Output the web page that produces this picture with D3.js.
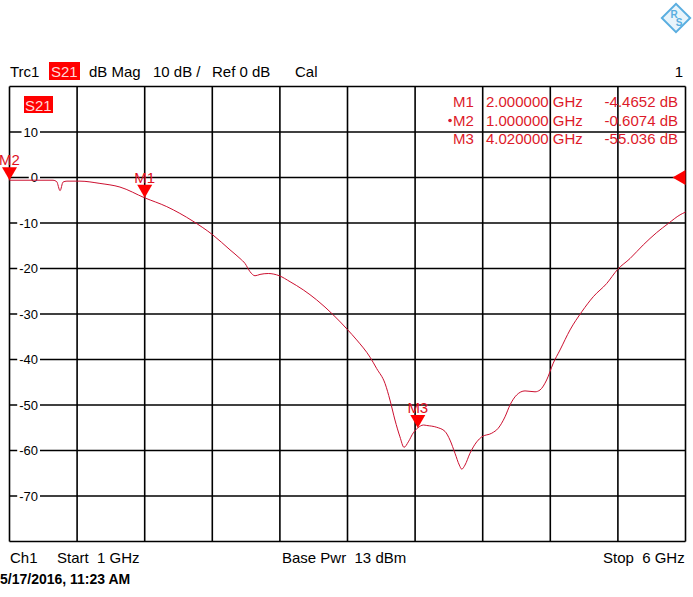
<!DOCTYPE html>
<html><head><meta charset="utf-8">
<script src="https://cdn.jsdelivr.net/npm/d3@7"></script>
<style>
html,body{margin:0;padding:0;background:#fff;}
svg{display:block;font-family:"Liberation Sans",Arial,sans-serif;}
</style></head>
<body><svg id="c" width="693" height="597"></svg>
<script>
// ---- data ----
const freqGHz = [1.000,1.322,1.349,1.374,1.396,1.425,1.521,1.669,1.817,2.000,2.163,2.357,2.503,2.631,2.705,2.742,2.779,2.816,2.853,2.914,2.996,3.075,3.173,3.272,3.395,3.499,3.568,3.667,3.716,3.778,3.814,3.851,3.888,3.918,3.950,3.987,4.020,4.061,4.086,4.160,4.221,4.258,4.295,4.327,4.345,4.369,4.406,4.456,4.493,4.567,4.615,4.665,4.702,4.751,4.813,4.887,4.924,4.973,5.022,5.072,5.146,5.233,5.318,5.417,5.498,5.590,5.688,5.787,5.873,5.960,6.000];
const s21dB   = [-0.6,-0.6,-0.9,-2.9,-1.0,-0.8,-0.8,-1.3,-2.1,-4.47,-6.4,-9.6,-12.6,-15.9,-17.8,-18.9,-20.7,-21.6,-21.3,-21.1,-21.6,-22.9,-24.7,-26.9,-30.2,-33.4,-35.7,-39.5,-42.0,-45.3,-48.9,-53.3,-57.0,-59.3,-58.1,-56.1,-55.04,-54.4,-54.5,-54.9,-55.8,-57.7,-60.6,-63.2,-64.1,-63.2,-60.6,-58.1,-57.0,-56.2,-55.1,-52.6,-50.0,-47.8,-46.9,-47.1,-46.7,-44.5,-40.8,-37.9,-33.5,-29.5,-26.2,-23.3,-20.2,-17.8,-14.8,-12.1,-10.1,-8.2,-7.6];
const markerNames = ["M1","M2","M3"];
const markerFreqs = [2.000000, 1.000000, 4.020000];
const markerVals  = ["-4.4652","-0.6074","-55.036"];
const yTickLabels = [10,0,-10,-20,-30,-40,-50,-60,-70];
const xGrid = [1,1.5,2,2.5,3,3.5,4,4.5,5,5.5,6];
const yGrid = [20,10,0,-10,-20,-30,-40,-50,-60,-70,-80];
const headerItems = ["Trc1","S21","dB Mag","10 dB /","Ref 0 dB","Cal"];
const footerItems = ["Ch1","Start  1 GHz","Base Pwr  13 dBm","Stop  6 GHz"];
const dateText = "5/17/2016, 11:23 AM";

// ---- layout ----
const svg = d3.select("#c");
const L=9.5, R=685.5, T=86.5, B=541.5;
const x = d3.scaleLinear().domain([1,6]).range([L,R]);
const y = d3.scaleLinear().domain([-80,20]).range([B,T]);
const RED="#ff0000", TRACE="#cc1030";

// grid
const g = svg.append("g");
g.selectAll("line.v").data(xGrid).join("line")
  .attr("x1",d=>x(d)).attr("x2",d=>x(d)).attr("y1",T).attr("y2",B)
  .attr("stroke","#000").attr("stroke-width",1.6);
g.selectAll("line.h").data(yGrid).join("line")
  .attr("x1",L).attr("x2",R).attr("y1",d=>y(d)).attr("y2",d=>y(d))
  .attr("stroke","#000").attr("stroke-width",1.6);

// y tick labels with white background
const yl = svg.append("g").attr("font-size",13);
yTickLabels.forEach(v=>{
  const t = yl.append("text").attr("x",38).attr("y",y(v)+4.5)
    .attr("text-anchor","end").text(String(v)).attr("fill","#000");
  const bb = t.node().getBBox();
  yl.insert("rect","text").attr("x",bb.x-2).attr("y",y(v)-3).attr("width",bb.width+4).attr("height",6).attr("fill","#fff");
});

// header
const hx=[10,50,89,153,212,295];
const hdr = svg.append("g").attr("font-size",15);
hdr.append("rect").attr("x",49).attr("y",62).attr("width",31).attr("height",18).attr("fill",RED);
headerItems.forEach((s,i)=>{
  hdr.append("text").attr("x",hx[i]+(i===1?1:0)).attr("y",77).text(s)
    .attr("fill", i===1?"#ffd8d8":"#000");
});
hdr.append("text").attr("x",683).attr("y",77).attr("text-anchor","end").text("1");

// S21 box in plot
svg.append("rect").attr("x",24).attr("y",96).attr("width",29).attr("height",17).attr("fill",RED);
svg.append("text").attr("x",25).attr("y",111).attr("font-size",15).attr("fill","#ffd8d8").text("S21");

// marker table
const mt = svg.append("g").attr("font-size",15).attr("fill","#dd1a2a");
markerNames.forEach((n,i)=>{
  const yy = 107 + i*18.5;
  if(n==="M2") mt.append("circle").attr("cx",450).attr("cy",yy-5).attr("r",1.8).attr("fill","#dd1a2a");
  mt.append("text").attr("x",453).attr("y",yy).text(n);
  mt.append("text").attr("x",486).attr("y",yy).text(markerFreqs[i].toFixed(6)+" GHz");
  mt.append("text").attr("x",678).attr("y",yy).attr("text-anchor","end").text(markerVals[i]+" dB");
});

// trace
const line = d3.line().x(d=>x(d[0])).y(d=>y(d[1])).curve(d3.curveMonotoneX);
svg.append("path").datum(d3.zip(freqGHz,s21dB)).attr("d",line)
  .attr("fill","none").attr("stroke",TRACE).attr("stroke-width",1);

// markers
const mk = svg.append("g");
markerNames.forEach((n,i)=>{
  const px=x(markerFreqs[i]), py=y(+markerVals[i]);
  mk.append("path").attr("d",`M${px},${py} L${px-7.5},${py-13} L${px+7.5},${py-13} Z`).attr("fill",RED);
  mk.append("text").attr("x",px).attr("y",py-15).attr("text-anchor","middle")
    .attr("font-size",15).attr("fill","#e0101e").text(n);
});
// reference level arrow on right
const ry=y(0);
svg.append("path").attr("d",`M${R-13},${ry} L${R},${ry-7.5} L${R},${ry+7.5} Z`).attr("fill",RED);

// footer
const fx=[10,57,282,603];
const ft = svg.append("g").attr("font-size",15);
footerItems.forEach((s,i)=>{
  ft.append("text").attr("x",fx[i]).attr("y",563).text(s).style("white-space","pre");
});
svg.append("text").attr("x",0).attr("y",584).attr("font-size",14).attr("font-weight","bold")
  .attr("font-family","'Liberation Sans Narrow','Liberation Sans',Arial,sans-serif").text(dateText);

// logo
const lg = svg.append("g").attr("transform","translate(676,18)");
lg.append("rect").attr("x",-10).attr("y",-10).attr("width",20).attr("height",20)
  .attr("transform","rotate(45)").attr("fill","#e8f4fb").attr("stroke","#5aaee0").attr("stroke-width",2);
lg.append("text").attr("x",-2).attr("y",0).attr("text-anchor","middle").attr("font-size",10)
  .attr("font-weight","bold").attr("fill","#5aaee0").text("R");
lg.append("text").attr("x",3).attr("y",8).attr("text-anchor","middle").attr("font-size",10)
  .attr("font-weight","bold").attr("fill","#5aaee0").text("S");
</script></body></html>
